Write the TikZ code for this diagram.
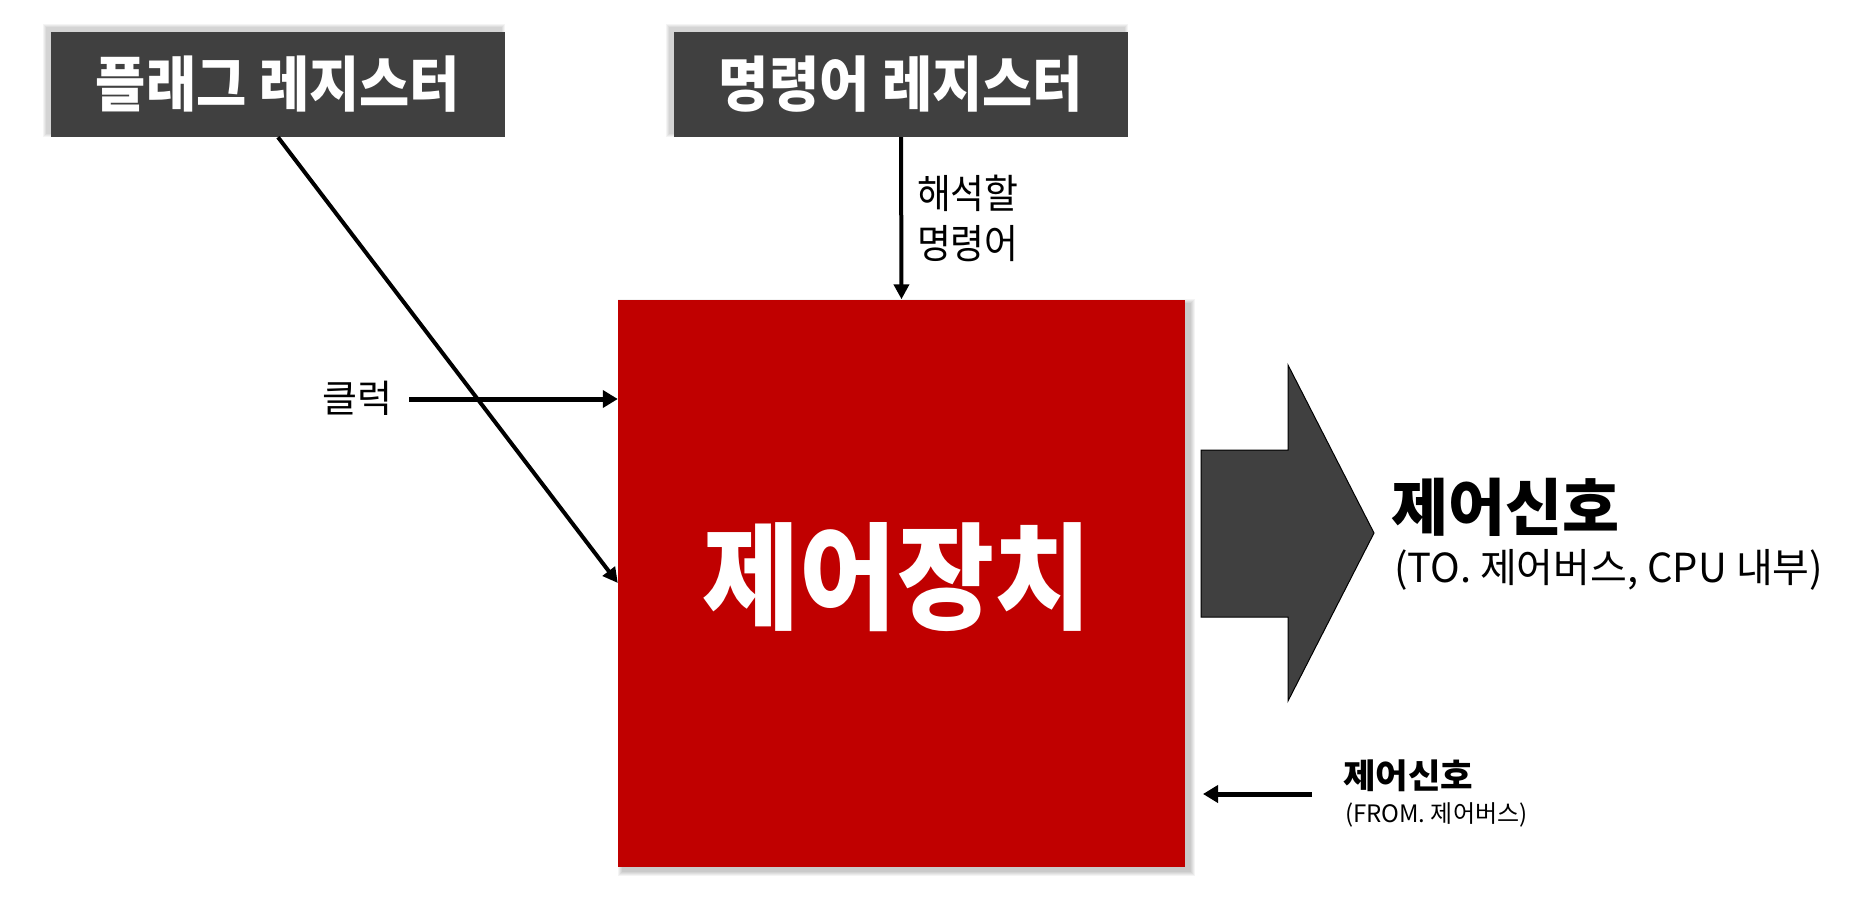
\documentclass[tikz,border=0pt]{standalone}
\usepackage{fontspec}
\setmainfont{Noto Sans CJK KR}
\usepackage{graphicx}
\usetikzlibrary{arrows.meta}
\definecolor{boxgray}{HTML}{404040}
\definecolor{ctrlred}{HTML}{C00000}
\newcommand{\hs}[2]{\scalebox{#1}[1]{#2}}
\newcommand{\softshadow}[5]{% x1 y1 x2 y2 steps
  \foreach \i in {1,...,#5}{\fill[black,opacity=0.045] (#1-\i,#2-\i) rectangle (#3+\i,#4+\i);}}
\begin{document}
\begin{tikzpicture}[x=1pt,y=-1pt,
  regbox/.style={fill=boxgray,draw=none,minimum width=454pt,minimum height=105pt,inner sep=0pt},
  ctrlbox/.style={fill=ctrlred,draw=none,minimum width=567pt,minimum height=567pt,inner sep=0pt},
  lbl/.style={inner sep=0pt,outer sep=0pt},
  conn/.style={draw=black,line width=4pt,-{Triangle[length=15pt,width=15pt]}},
  connthick/.style={draw=black,line width=5pt,-{Triangle[length=15pt,width=17pt]}}]
\useasboundingbox (0,0) rectangle (1856,910);
\fill[white] (0,0) rectangle (1856,910);
% shadows
\softshadow{47}{28}{501}{133}{4}
\softshadow{670}{28}{1124}{133}{4}
\softshadow{623}{304}{1190}{871}{5}
% boxes
\node[regbox] (flag) at (278,84.5) {};
\node[regbox] (instr) at (901,84.5) {};
\node[ctrlbox] (ctrl) at (901.5,583) {};
% titles
\node[lbl,text=white,font=\fontsize{60}{62}\selectfont\bfseries] at (flag.center) {\hs{0.91}{플래그 레지스터}};
\node[lbl,text=white,font=\fontsize{60}{62}\selectfont\bfseries] at (instr.center) {\hs{0.91}{명령어 레지스터}};
\node[lbl,text=white,font=\fontsize{116}{118}\selectfont\bfseries] at (897,577) {\hs{0.91}{제어장치}};
% big output arrow
\draw[fill=boxgray,draw=black,line width=1pt] (1201,450) -- (1288,450) -- (1288,365) -- (1374,533) -- (1288,701) -- (1288,617) -- (1201,617) -- cycle;
% labels
\node[lbl,anchor=center,font=\fontsize{38}{40}\selectfont] (clk) at (357,398.5) {\hs{1.0}{클럭}};
\node[lbl,anchor=west,font=\fontsize{40}{50}\selectfont,align=left] (instrlbl) at (917,218) {\hs{0.92}{해석할}\\\hs{0.92}{명령어}};
\node[lbl,anchor=west,font=\fontsize{62}{64}\selectfont\bfseries] (outlbl) at (1391,507) {\hs{1.0}{제어신호}};
\node[lbl,anchor=west,font=\fontsize{40}{44}\selectfont] (outsub) at (1394,570) {\hs{1.0}{(TO. 제어버스, CPU 내부)}};
\node[lbl,anchor=west,font=\fontsize{34}{36}\selectfont\bfseries] (inlbl) at (1343,776) {\hs{1.04}{제어신호}};
\node[lbl,anchor=west,font=\fontsize{24}{26}\selectfont] (insub) at (1345,815) {(FROM. 제어버스)};
% connectors
\coordinate (clkstart) at (409,399);
\coordinate (instart) at (1312,794);
\coordinate (inend) at (1203,794);
\draw[conn] (flag.south) -- (ctrl.west);
\draw[conn] (instr.south) -- (ctrl.north);
\draw[connthick] (clkstart) -- (ctrl.west |- clkstart);
\draw[connthick] (instart) -- (inend);
\end{tikzpicture}
\end{document}
